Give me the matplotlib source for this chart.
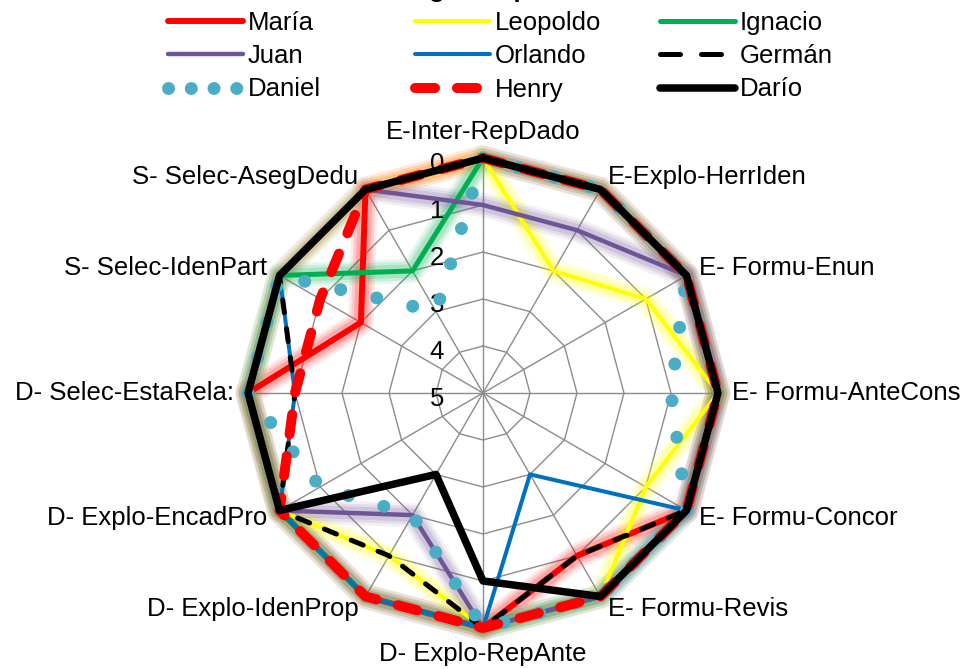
import numpy as np
import matplotlib
matplotlib.use("Agg")
import matplotlib.pyplot as plt
from matplotlib import transforms
from matplotlib.lines import Line2D

plt.rcParams['font.family'] = ['Liberation Sans', 'DejaVu Sans']

# categories clockwise from the top
categories = ["E-Inter-RepDado", "E-Explo-HerrIden", "E- Formu-Enun", "E- Formu-AnteCons",
              "E- Formu-Concor", "E- Formu-Revis", "D- Explo-RepAnte", "D- Explo-IdenProp",
              "D- Explo-EncadPro", "D- Selec-EstaRela:", "S- Selec-IdenPart", "S- Selec-AsegDedu"]

maria    = [0, 0, 0, 0, 0, 1, 0, 0, 0, 0, 2, 0]
leopoldo = [0, 2, 1, 0, 1, 0, 0, 1, 0, 0, 0, 0]
ignacio  = [0, 0, 0, 0, 0, 0, 0, 0, 0, 0, 0, 2]
juan     = [1, 1, 0, 0, 0, 0, 0, 2, 0, 0, 0, 0]
orlando  = [0, 0, 0, 0, 0, 3, 0, 0, 0, 1, 0, 0]
german   = [0, 0, 0, 0, 0, 1, 0, 1, 0, 1, 0, 0]
daniel   = [0, 0, 0, 1, 0, 0, 0, 2, 1, 0, 0, 3]
henry    = [0, 0, 0, 0, 0, 0, 0, 0, 0, 1, 1, 0]
dario    = [0, 0, 0, 0, 0, 0, 1, 3, 0, 0, 0, 0]

names = ["María", "Leopoldo", "Ignacio", "Juan", "Orlando", "Germán", "Daniel", "Henry", "Darío"]
series = [maria, leopoldo, ignacio, juan, orlando, german, daniel, henry, dario]

# style per series: color, width, dash pattern (chart / legend), glow
styles = [
    dict(color='#FF0000', lw=4.3, ls='-', leg_ls='-', glow=True),
    dict(color='#FFFF00', lw=2.9, ls='-', leg_ls='-', glow=True),
    dict(color='#00B050', lw=3.6, ls='-', leg_ls='-', glow=True),
    dict(color='#6F5597', lw=3.2, ls='-', leg_ls='-', glow=True),
    dict(color='#0070C0', lw=2.9, ls='-', leg_ls='-', glow=False),
    dict(color='#000000', lw=3.6, ls=(0, (2.6, 3.2)), leg_ls=(0, (4.0, 4.2)), glow=False),
    dict(color='#4BACC6', lw=9.3, ls=(0, (0.01, 2.85)), leg_ls=(0, (0.01, 1.75)), glow=False),
    dict(color='#FF0000', lw=7.2, ls=(0, (2.0, 2.2)), leg_ls=(0, (2.0, 2.2)), glow=False),
    dict(color='#000000', lw=5.4, ls='-', leg_ls='-', glow=False),
]

fig = plt.figure(figsize=(9.73, 6.69), dpi=100)
ax = fig.add_axes([0.2549, 0.0613, 0.4830, 0.7025], projection='polar')
ax.set_theta_zero_location('N')
ax.set_theta_direction(-1)
ax.set_ylim(5, 0)
ax.set_xticks([])
ax.set_yticks([])
ax.grid(False)
ax.spines['polar'].set_visible(False)

angles = np.arange(len(categories)) * 2 * np.pi / len(categories)
closed = np.append(angles, angles[0])

# polygon grid
grid_col = '#8c8c8c'
for k in range(5):
    ax.plot(closed, [k] * len(closed), color=grid_col, lw=1.0, zorder=1)
for a in angles:
    ax.plot([a, a], [5, 0], color=grid_col, lw=1.0, zorder=1)

# soft glow under the lines
for vals, st in zip(series, styles):
    if not st['glow']:
        continue
    v = vals + vals[:1]
    for extra, alpha in [(14, 0.09), (10, 0.12), (6, 0.17)]:
        ax.plot(closed, v, color=st['color'], lw=st['lw'] + extra, alpha=alpha,
                solid_joinstyle='round', solid_capstyle='round', zorder=2, clip_on=False)

for i, (vals, st) in enumerate(zip(series, styles)):
    v = vals + vals[:1]
    ax.plot(closed, v, color=st['color'], lw=st['lw'], ls=st['ls'],
            dash_capstyle='round', solid_capstyle='round', solid_joinstyle='round',
            zorder=3 + i * 0.1, clip_on=False)

# category labels
for a, cat in zip(angles, categories):
    s = np.sin(a)
    if abs(s) < 0.01:
        ha = 'center'
        va = 'bottom' if np.cos(a) > 0 else 'top'
    else:
        ha = 'left' if s > 0 else 'right'
        va = 'center'
    ax.text(a, -0.3, cat, ha=ha, va=va, fontsize=18.5, color='black')

# radial value labels
tr = transforms.offset_copy(ax.transData, fig=fig, x=-46, y=-6, units='dots')
for k in range(6):
    ax.text(0, k, str(k), transform=tr, ha='center', va='center', fontsize=18.5)

# title (mostly off the top edge, as in the original)
fig.text(389 / 973, 1 + 3 / 669, "Diagrama por estudiante", fontsize=18.5, fontweight='bold',
         ha='left', va='baseline')

# legend in three columns
handles = []
for st in styles:
    handles.append(Line2D([0], [0], color=st['color'], lw=st['lw'], ls=st['leg_ls'],
                          dash_capstyle='round', solid_capstyle='round'))
col_x = [168, 415, 660]
for c in range(3):
    idx = [c, c + 3, c + 6]
    fig.legend([handles[j] for j in idx], [names[j] for j in idx],
               loc='upper left', bbox_to_anchor=(col_x[c] / 973, 1 - 11 / 669),
               frameon=False, fontsize=18.5, borderpad=0, borderaxespad=0,
               handlelength=2.9, handletextpad=0.2, labelspacing=0.36)

fig.savefig('out.png', dpi=100)
